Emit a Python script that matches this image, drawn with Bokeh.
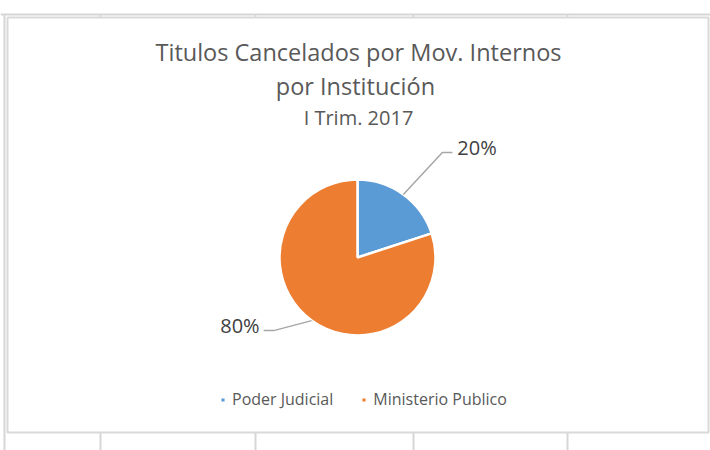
import math
from bokeh.plotting import figure
from bokeh.models import Range1d, Label, Legend, LegendItem, ColumnDataSource
from bokeh.embed import file_html
from bokeh.resources import INLINE

# ---- data ----
categories = ["Poder Judicial", "Ministerio Publico"]
values = [20, 80]
colors = ["#5B9BD5", "#ED7D31"]
title_lines = ["Titulos Cancelados por Mov. Internos", "por  Institución", "I Trim. 2017"]

W, H = 710, 450
OX, OY = 0, 0   # page offset of the figure
FONT = "Open Sans"
TXT = "#595959"

p = figure(width=W, height=H, x_range=Range1d(0, W), y_range=Range1d(0, H),
           output_backend="svg", toolbar_location=None, min_border=0,
           outline_line_color=None, background_fill_color="white",
           border_fill_color="white")
p.axis.visible = False
p.grid.visible = False

def sy(y):  # screen y (page) -> data y
    return H - (y - OY)
def sx(x):
    return x - OX

# spreadsheet background lines
p.segment(x0=[sx(0)], y0=[sy(14)], x1=[sx(710)], y1=[sy(14)], line_color="#d6d6d6", line_width=2)
p.segment(x0=[sx(4)], y0=[sy(14)], x1=[sx(4)], y1=[sy(450)], line_color="#d6d6d6", line_width=2)
for gx in [100, 255, 413, 567]:
    p.segment(x0=[sx(gx), sx(gx)], y0=[sy(14), sy(432)], x1=[sx(gx), sx(gx)], y1=[sy(17), sy(450)],
              line_color="#d6d6d6", line_width=2)

# chart frame
p.quad(left=[sx(7)], right=[sx(708)], top=[sy(17)], bottom=[sy(432)],
       fill_color="white", line_color="#d9d9d9", line_width=2)

# pie
cx, cy, r = sx(357), sy(257), 78
total = float(sum(values))
starts, ends, mids = [], [], []
acc = 0.0
for v in values:
    a0 = math.pi / 2 - acc / total * 2 * math.pi
    acc += v
    a1 = math.pi / 2 - acc / total * 2 * math.pi
    starts.append(a0); ends.append(a1); mids.append((a0 + a1) / 2)

src = ColumnDataSource(dict(x=[cx] * len(values), y=[cy] * len(values),
                            start=starts, end=ends, color=colors, cat=categories))
wr = p.wedge(x="x", y="y", radius=r, radius_units="screen", start_angle="start", end_angle="end",
             direction="clock", fill_color="color", line_color="white", line_width=2.5, source=src)

# leader lines and labels
offsets = [((39, -42), (10, 0)), ((-38, 10), (-10, 0))]
for i, v in enumerate(values):
    x0 = cx + r * math.cos(mids[i])
    y0 = cy + r * math.sin(mids[i])
    (dx1, dy1), (dx2, dy2) = offsets[i]
    x1, y1 = x0 + dx1, y0 - dy1
    x2, y2 = x1 + dx2, y1 - dy2
    p.line(x=[x0, x1, x2], y=[y0, y1, y2], line_color="#a6a6a6", line_width=1.5)
    lab = f"{v}%"
    p.add_layout(Label(x=x2 + (5 if dx2 > 0 else -4), y=y2 + 5, text=lab,
                       text_align="left" if dx2 > 0 else "right", text_baseline="middle",
                       text_font=FONT, text_font_size="20px", text_color="#404040"))

# titles
for txt, yy, size in zip(title_lines, [51, 85, 117], ["23.5px", "23.5px", "20px"]):
    p.add_layout(Label(x=sx(358), y=sy(yy), text=txt, text_align="center", text_baseline="middle",
                       text_font=FONT, text_font_size=size, text_color=TXT))

# legend
items = [LegendItem(label=categories[i], renderers=[wr], index=i) for i in range(len(categories))]
legend = Legend(items=items, orientation="horizontal", location=(sx(219), sy(410)),
                glyph_width=7, glyph_height=7, label_text_font=FONT, label_text_font_size="16px",
                label_text_color=TXT, spacing=27, border_line_alpha=0, background_fill_alpha=0,
                label_standoff=6, padding=0, margin=0)
p.add_layout(legend, "center")

open("out.html", "w").write(file_html(p, INLINE))
